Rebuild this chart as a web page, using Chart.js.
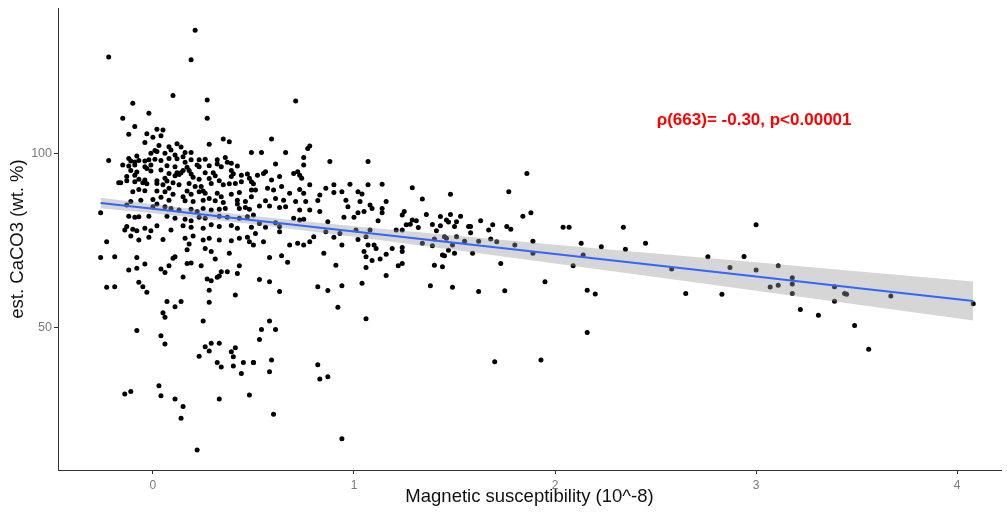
<!DOCTYPE html>
<html>
<head>
<meta charset="utf-8">
<script src="https://cdn.jsdelivr.net/npm/chart.js@4.4.1/dist/chart.umd.min.js"></script>
<style>
  html, body { margin: 0; padding: 0; background: #fff; }
  #wrap { width: 1007px; height: 513px; }
</style>
</head>
<body>
<div id="wrap"><canvas id="graficoCaCO3"></canvas></div>
<script>
// Amostras: susceptibilidade magnética (10^-8) x CaCO3 estimado (wt. %)
// topo, acima de ~104 %
const suscTopo = [0.21, -0.22, 0.19, 0.10, 0.27, -0.10, -0.02, -0.15, 0.27, -0.09,
                  -0.12, -0.03, 0.02, 0.05, 0.00, 0.04, 0.35, 0.71, 0.59];
const caco3Topo = [135.6, 127.9, 127.1, 116.8, 115.5, 114.6, 111.7, 110.3, 110.3, 107.9,
                   105.7, 105.8, 107.1, 106.9, 104.8, 105.2, 104.3, 115.2, 104.3];

// nucleo denso, susceptibilidade < 0.5
const suscNucleo = [
  -0.04, 0.03, 0.12, 0.08, 0.14, 0.28, 0.38, 0.09, 0.06, 0.02,
  0.01, -0.01, 0.11, 0.16, 0.19, 0.15, -0.22, -0.12, -0.08, -0.11,
  -0.09, -0.07, -0.04, -0.02, 0.01, 0.04, 0.08, 0.12, 0.16, 0.19,
  0.23, 0.26, 0.32, 0.36, -0.15, -0.12, -0.09, -0.04, -0.01, 0.07,
  0.11, 0.15, 0.17, 0.18, 0.22, 0.23, 0.28, 0.32, 0.34, 0.37,
  0.39, 0.42, -0.11, -0.08, -0.03, -0.01, 0.04, 0.08, 0.12, 0.14,
  0.19, 0.26, 0.30, 0.39, 0.40, -0.13, -0.09, -0.07, -0.04, -0.03,
  0.02, 0.06, 0.07, 0.11, 0.13, 0.20, 0.23, 0.28, 0.31, 0.33,
  0.39, 0.44, 0.47, -0.16, -0.13, -0.09, -0.05, 0.02, 0.05, 0.10,
  0.13, 0.18, 0.21, 0.24, 0.29, 0.35, 0.38, 0.41, 0.44, 0.49,
  0.50, -0.10, -0.07, -0.04, 0.02, 0.08, 0.06, 0.10, 0.17, 0.19,
  0.23, 0.25, 0.26, 0.32, 0.34, 0.39, 0.43, 0.49, 0.00, 0.04,
  0.08, 0.15, 0.16, 0.20, 0.25, 0.28, 0.31, 0.35, 0.42, 0.46,
  0.49, -0.26, -0.11, -0.13, -0.06, 0.00, 0.02, 0.06, 0.09, 0.13,
  0.19, 0.22, 0.25, 0.29, 0.33, 0.36, 0.42, 0.43, 0.46, 0.48,
  -0.09, -0.07, -0.12, -0.02, 0.07, 0.11, 0.16, 0.19, 0.23, 0.26,
  0.33, 0.37, 0.43, 0.47, -0.13, -0.14, -0.10, -0.08, -0.04, -0.01,
  0.02, 0.09, 0.15, 0.19, 0.25, 0.29, 0.33, 0.39, 0.42, 0.49,
  -0.23, -0.11, -0.07, -0.02, 0.05, 0.16, 0.20, 0.25, 0.28, 0.33,
  0.39, 0.43, 0.47, 0.18, -0.17
];
const caco3Nucleo = [
  103.3, 102.4, 102.9, 102.1, 102.0, 102.8, 103.5, 101.1, 100.2, 100.7,
  101.0, 100.2, 99.7, 100.4, 100.4, 99.2, 98.1, 98.7, 99.4, 98.0,
  97.7, 98.1, 98.0, 98.3, 98.5, 98.1, 98.7, 98.6, 97.6, 98.3,
  98.3, 98.5, 98.3, 99.0, 96.8, 96.5, 96.8, 96.3, 96.8, 96.6,
  96.3, 95.2, 96.2, 95.2, 96.8, 96.3, 96.6, 97.1, 96.3, 97.6,
  97.3, 96.5, 95.2, 94.8, 95.8, 95.1, 95.4, 94.4, 94.6, 94.6,
  94.2, 94.6, 94.6, 95.2, 94.3, 93.5, 93.9, 92.7, 92.5, 91.4,
  92.3, 93.0, 92.2, 93.7, 94.1, 93.3, 92.7, 92.9, 93.7, 92.3,
  93.5, 93.9, 94.2, 91.7, 92.3, 92.0, 91.7, 91.5, 91.1, 91.7,
  91.1, 91.5, 90.6, 90.6, 91.5, 91.1, 91.4, 91.5, 92.0, 92.0,
  91.4, 89.1, 89.8, 89.4, 89.3, 90.1, 89.1, 88.4, 89.3, 88.4,
  89.1, 89.3, 88.7, 88.7, 87.7, 88.4, 88.9, 89.6, 86.9, 87.5,
  86.7, 87.7, 86.5, 86.3, 86.7, 87.2, 86.5, 86.0, 86.7, 86.3,
  87.7, 83.1, 86.3, 85.3, 86.7, 84.8, 85.6, 84.8, 84.3, 83.9,
  84.1, 83.4, 84.3, 83.9, 84.1, 84.3, 85.6, 84.3, 84.6, 84.1,
  81.8, 81.9, 82.1, 82.1, 82.1, 81.5, 81.2, 80.8, 81.8, 81.5,
  82.1, 81.8, 81.5, 81.9, 79.1, 78.1, 78.3, 77.9, 78.6, 77.9,
  79.3, 78.1, 79.3, 78.9, 78.6, 79.6, 79.1, 79.4, 78.6, 78.9,
  74.7, 76.4, 75.2, 76.0, 75.4, 75.7, 76.4, 75.2, 75.7, 75.2,
  75.0, 75.7, 76.0, 74.1, 91.7
];

// cauda inferior, susceptibilidade < 0.5
const suscBaixo = [
  -0.26, -0.19, -0.08, -0.12, -0.08, -0.04, -0.23, -0.19, -0.07, -0.05,
  -0.03, 0.17, 0.04, 0.06, 0.08, 0.10, 0.11, 0.17, 0.19, 0.15,
  0.24, 0.26, 0.29, 0.31, 0.38, 0.43, 0.42, 0.27, 0.29, 0.32,
  0.33, 0.34, 0.37, 0.28, 0.28, 0.41, 0.07, 0.11, 0.14, 0.05,
  0.06, 0.25, -0.08, 0.04, 0.06, 0.26, 0.29, 0.33, 0.28, 0.23,
  0.32, 0.34, 0.39, 0.41, 0.40, 0.40, 0.45, 0.50, 0.44, 0.03,
  -0.14, -0.11, 0.04, 0.11, 0.15, 0.14, 0.33, 0.48, 0.22
];
const caco3Baixo = [
  70.2, 70.4, 70.2, 66.6, 67.1, 68.3, 61.6, 61.8, 63.1, 61.8,
  60.2, 72.4, 66.9, 65.9, 67.8, 70.0, 70.4, 68.5, 68.6, 64.6,
  67.8, 72.8, 71.9, 69.8, 71.4, 67.8, 65.6, 64.0, 63.5, 64.5,
  64.9, 66.1, 66.1, 60.8, 57.3, 59.4, 57.5, 56.0, 57.5, 54.3,
  53.0, 51.9, 49.2, 47.7, 45.3, 44.5, 45.5, 45.5, 43.3, 41.8,
  40.0, 38.7, 43.1, 44.2, 41.6, 39.0, 40.0, 40.0, 36.8, 33.3,
  30.9, 31.6, 30.4, 29.5, 27.3, 23.9, 29.5, 30.6, 14.8
];

// faixa 0.5 - 1.3
const suscMeio = [
  0.49, 0.54, 0.66, 0.77, 0.78, 0.75, 0.61, 0.75, 0.88, 1.07,
  0.52, 0.55, 0.56, 0.48, 0.59, 0.63, 0.70, 0.72, 0.73, 0.74,
  0.78, 0.64, 0.57, 0.60, 0.51, 0.68, 0.73, 0.75, 0.86, 0.90,
  0.98, 1.07, 1.14, 1.29, 0.94, 1.02, 1.04, 0.90, 0.83, 0.82,
  0.56, 0.53, 0.61, 0.65, 0.71, 0.76, 0.58, 0.63, 0.66, 0.73,
  0.78, 0.83, 0.96, 0.97, 1.03, 1.08, 1.09, 1.05, 1.02, 1.00,
  0.95, 1.14, 1.16, 1.14, 1.12, 1.24, 1.25, 1.26, 1.29, 1.31,
  1.28, 0.50, 0.53, 0.56, 0.61, 0.63, 0.70, 0.73, 0.75, 0.87,
  0.93, 1.01, 1.08, 1.21, 1.24, 0.51, 0.55, 0.63, 0.68, 0.72,
  0.78, 0.86, 0.90, 1.02, 1.06, 1.10, 1.19, 1.24, 0.94, 0.80,
  0.48,
  0.50, 0.75, 1.07, 1.11, 1.05, 1.24, 0.58, 0.64, 0.67, 0.85,
  0.91, 1.06, 1.09, 1.13, 1.16, 1.06, 1.22, 1.24, 1.16, 0.53,
  0.58, 0.63, 0.82, 0.87, 0.94, 1.04, 0.92, 1.06, 0.58, 0.54,
  0.61, 0.53, 0.50, 0.59, 0.58, 0.82, 0.83, 0.87, 0.60, 0.94
];
const caco3Meio = [
  100.4, 100.4, 100.4, 101.6, 102.3, 99.0, 97.1, 96.8, 97.8, 97.8,
  93.9, 94.4, 94.9, 93.0, 92.5, 93.5, 94.4, 94.9, 93.9, 93.0,
  91.1, 90.6, 90.1, 89.6, 89.6, 88.7, 89.8, 88.7, 90.1, 91.1,
  91.3, 91.1, 91.3, 90.3, 89.1, 89.1, 88.5, 88.9, 88.2, 86.6,
  86.5, 85.0, 87.2, 86.7, 86.3, 86.3, 85.0, 84.6, 84.8, 83.9,
  83.9, 83.4, 86.7, 84.8, 86.3, 85.3, 84.3, 83.4, 83.1, 81.8,
  81.8, 84.3, 86.3, 83.1, 80.8, 82.4, 83.4, 79.6, 81.0, 80.8,
  79.8, 82.4, 80.0, 78.9, 80.2, 79.1, 81.5, 81.0, 81.2, 80.5,
  77.1, 78.1, 78.1, 78.1, 78.1, 77.1, 74.7, 77.6, 73.8, 74.3,
  74.7, 77.6, 76.0, 75.4, 76.2, 73.8, 72.8, 73.1, 73.8, 76.2,
  74.7,
  73.8, 73.8, 73.8, 72.8, 71.9, 71.9, 70.2, 70.7, 68.8, 71.4,
  68.0, 70.4, 69.3, 69.8, 71.1, 67.3, 67.8, 68.5, 65.0, 63.9,
  63.2, 60.4, 61.8, 60.7, 62.1, 62.8, 55.9, 52.6, 51.9, 49.5,
  49.5, 46.6, 40.0, 40.7, 37.3, 39.3, 35.2, 35.9, 25.1, 18.0
];

// faixa 1.3 - 2.3
const suscCauda = [
  1.34, 1.48, 1.36, 1.32, 1.39, 1.43, 1.43, 1.46, 1.47, 1.48,
  1.51, 1.50, 1.53, 1.41, 1.40, 1.45, 1.46, 1.51, 1.34, 1.39,
  1.47, 1.44, 1.45, 1.50, 1.49, 1.40, 1.44, 1.38, 1.49, 1.57,
  1.58, 1.58, 1.63, 1.69, 1.67, 1.68, 1.55, 1.62, 1.71, 1.59,
  1.73, 1.62, 1.75, 1.77, 1.86, 1.76, 1.78, 1.80, 1.84, 1.88,
  1.89, 1.89, 1.95, 2.04, 2.07, 2.13, 2.14, 2.23, 2.09, 2.16,
  2.20, 2.16, 1.70, 1.93
];
const caco3Cauda = [
  87.0, 88.4, 82.6, 78.8, 79.7, 82.0, 79.3, 81.0, 80.4, 82.6,
  80.5, 79.1, 82.1, 77.9, 75.5, 76.2, 75.7, 76.2, 74.3, 73.6,
  72.3, 70.9, 70.7, 71.4, 73.8, 68.0, 67.5, 62.1, 61.6, 79.1,
  79.1, 77.3, 80.8, 79.6, 78.1, 75.5, 74.9, 74.9, 74.7, 71.4,
  68.5, 60.4, 60.6, 89.1, 94.4, 79.1, 78.3, 73.8, 82.1, 83.1,
  74.9, 71.4, 63.2, 78.9, 78.9, 74.3, 70.9, 73.3, 67.8, 60.8,
  59.7, 48.6, 40.2, 40.7
];

// acima de 2.3
const suscLonge = [
  2.34, 2.35, 2.45, 3.00, 2.58, 2.65, 2.76, 2.83, 2.87, 2.94,
  3.00, 3.11, 3.07, 3.11, 3.18, 3.18, 3.18, 3.22, 3.31, 3.39,
  3.39, 3.44, 3.45, 3.49, 3.56, 3.67, 4.08
];
const caco3Longe = [
  78.9, 72.6, 74.3, 79.6, 66.9, 59.8, 70.4, 59.6, 67.3, 70.5,
  66.6, 67.8, 61.7, 62.2, 64.4, 62.6, 59.8, 55.2, 53.6, 61.8,
  57.6, 59.8, 59.6, 50.6, 43.8, 59.1, 56.9
];

// reta de regressao linear e intervalo de confianca 95%
const ajusteX = [-0.26, 0, 0.5, 1, 1.5, 2, 2.5, 3, 3.5, 4.08];
const ajusteY = [85.9, 84.2, 80.95, 77.7, 74.45, 71.2, 67.95, 64.7, 61.45, 57.7];
const faixaSup = [87.4, 85.5, 82.15, 79.2, 76.55, 73.9, 71.35, 68.8, 66.25, 63.3];
const faixaInf = [84.4, 82.9, 79.75, 76.2, 72.35, 68.5, 64.55, 60.6, 56.65, 52.1];

const ticksX = [0, 1, 2, 3, 4];
const ticksY = [50, 100];

const textoRho = 'ρ(663)= -0.30, p<0.00001';
const posRho = [2.99, 109.8];

const fonte = '"Liberation Sans", Arial, sans-serif';

const suscTodas = [].concat(suscTopo, suscNucleo, suscBaixo, suscMeio, suscCauda, suscLonge);
const caco3Todas = [].concat(caco3Topo, caco3Nucleo, caco3Baixo, caco3Meio, caco3Cauda, caco3Longe);
const pontos = suscTodas.map((x, i) => ({ x: x, y: caco3Todas[i] }));

const par = (xs, ys) => xs.map((x, i) => ({ x: x, y: ys[i] }));

// texto da correlacao, em coordenadas de dados
const rotuloRho = {
    id: 'rotuloRho',
    afterDatasetsDraw(chart) {
        const { ctx, scales } = chart;
        ctx.save();
        ctx.font = 'bold 17px ' + fonte;
        ctx.fillStyle = '#ff0000';
        ctx.textAlign = 'center';
        ctx.textBaseline = 'middle';
        ctx.fillText(textoRho, scales.x.getPixelForValue(posRho[0]), scales.y.getPixelForValue(posRho[1]));
        ctx.restore();
    }
};

// sem folga extra para os rotulos nas pontas dos eixos
const semFolga = axis => {
    axis.paddingTop = 0;
    axis.paddingBottom = 0;
    axis.paddingLeft = 0;
    axis.paddingRight = 0;
};

const ctx = document.getElementById('graficoCaCO3').getContext('2d');
new Chart(ctx, {
    type: 'scatter',
    data: {
        datasets: [
            {
                type: 'line',
                label: 'ajuste',
                data: par(ajusteX, ajusteY),
                borderColor: '#3366ff',
                borderWidth: 2,
                pointRadius: 0,
                fill: false
            },
            {
                type: 'line',
                label: 'IC sup',
                data: par(ajusteX, faixaSup),
                borderWidth: 0,
                borderColor: 'rgba(0,0,0,0)',
                backgroundColor: 'rgba(153,153,153,0.4)',
                pointRadius: 0,
                fill: '+1'
            },
            {
                type: 'line',
                label: 'IC inf',
                data: par(ajusteX, faixaInf),
                borderWidth: 0,
                borderColor: 'rgba(0,0,0,0)',
                pointRadius: 0,
                fill: false
            },
            {
                label: 'amostras',
                data: pontos,
                backgroundColor: '#000',
                borderWidth: 0,
                pointRadius: 2.5
            }
        ]
    },
    options: {
        responsive: true,
        maintainAspectRatio: false,
        animation: false,
        layout: { padding: { top: 8, right: 6, left: 0, bottom: 0 } },
        plugins: {
            legend: { display: false },
            tooltip: { enabled: false }
        },
        scales: {
            x: {
                type: 'linear',
                min: -0.472,
                max: 4.218,
                afterBuildTicks: axis => { axis.ticks = ticksX.map(v => ({ value: v })); },
                afterFit: axis => { axis.height = 43; semFolga(axis); },
                grid: { drawOnChartArea: false, drawTicks: true, tickLength: 4, color: '#333' },
                border: { display: true, color: '#333', width: 1 },
                ticks: { color: '#7a7a7a', font: { family: fonte, size: 12 }, padding: 4, autoSkip: false, maxRotation: 0 },
                title: {
                    display: true,
                    text: 'Magnetic susceptibility (10^-8)',
                    color: '#111',
                    font: { family: fonte, size: 18.5 },
                    padding: { top: 0, bottom: 5 }
                }
            },
            y: {
                type: 'linear',
                min: 9.04,
                max: 142,
                afterBuildTicks: axis => { axis.ticks = ticksY.map(v => ({ value: v })); },
                afterFit: axis => { axis.width = 58; semFolga(axis); },
                grid: { drawOnChartArea: false, drawTicks: true, tickLength: 4, color: '#333' },
                border: { display: true, color: '#333', width: 1 },
                ticks: { color: '#7a7a7a', font: { family: fonte, size: 12.5 }, padding: 2, autoSkip: false },
                title: {
                    display: true,
                    text: 'est. CaCO3 (wt. %)',
                    color: '#111',
                    font: { family: fonte, size: 18.5 },
                    padding: { top: 7, bottom: 0 }
                }
            }
        }
    },
    plugins: [rotuloRho]
});
</script>
</body>
</html>
